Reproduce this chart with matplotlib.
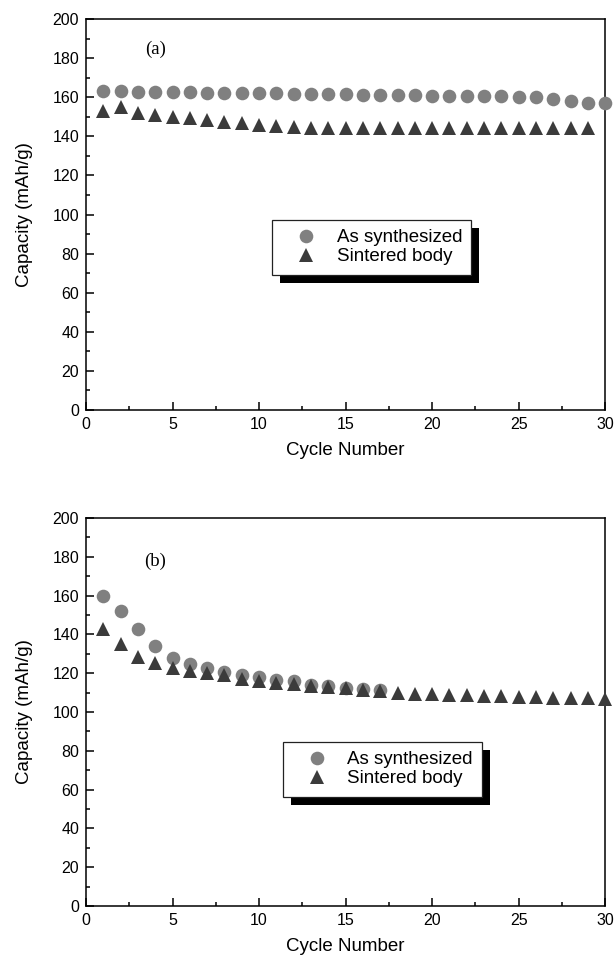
import numpy as np
import matplotlib
matplotlib.use("Agg")
import matplotlib.pyplot as plt
from matplotlib.patches import Rectangle

plt.rcParams['font.family'] = ['Liberation Sans', 'DejaVu Sans']

# panel (a)
cyc_a_syn = list(range(1, 31))
cap_a_syn = [163.2, 163.0, 162.8, 162.7, 162.6, 162.5, 162.3, 162.2, 162.1, 162.0,
             161.9, 161.8, 161.6, 161.5, 161.4, 161.3, 161.2, 161.0, 160.9, 160.8,
             160.7, 160.6, 160.5, 160.4, 160.2, 160.0, 159.0, 158.0, 157.0, 156.8]
cyc_a_sin = list(range(1, 30))
cap_a_sin = [153.0, 155.0, 152.0, 150.8, 150.0, 149.2, 148.3, 147.5, 146.6, 145.9,
             145.1, 145.0, 144.2, 144.1, 144.0, 144.0, 144.0, 144.0, 144.0, 144.0,
             144.0, 144.0, 144.0, 144.0, 144.0, 144.0, 144.0, 144.0, 144.0]

# panel (b)
cyc_b_syn = list(range(1, 18))
cap_b_syn = [160.0, 152.0, 143.0, 134.2, 128.0, 124.7, 122.5, 120.5, 118.8, 118.0,
             116.7, 115.8, 114.0, 113.2, 112.6, 112.0, 111.2]
cyc_b_sin = list(range(1, 31))
cap_b_sin = [142.8, 135.0, 128.3, 125.0, 122.7, 121.3, 120.2, 118.8, 117.2, 116.0,
             115.0, 114.3, 113.5, 112.8, 112.2, 111.5, 110.8, 110.0, 109.5, 109.0,
             108.8, 108.5, 108.3, 108.0, 107.8, 107.6, 107.4, 107.2, 107.0, 106.8]

labels = ['As synthesized', 'Sintered body']
panel_tags = ['(a)', '(b)']

fig = plt.figure(figsize=(6.16, 9.68), dpi=100)
ax_a = fig.add_axes([0.1396, 0.5764, 0.843, 0.404])
ax_b = fig.add_axes([0.1396, 0.064, 0.843, 0.401])

panels = [
    (ax_a, cyc_a_syn, cap_a_syn, cyc_a_sin, cap_a_sin, panel_tags[0], (4.0, 184.6), (0.358, 0.486)),
    (ax_b, cyc_b_syn, cap_b_syn, cyc_b_sin, cap_b_sin, panel_tags[1], (4.0, 177.5), (0.379, 0.423)),
]

legends = []
for ax, xs, ys, xt, yt, tag, tagpos, legpos in panels:
    ax.plot(xs, ys, 'o', color='#808080', markersize=9.8, markeredgewidth=0,
            label=labels[0], clip_on=False, zorder=3)
    ax.plot(xt, yt, '^', color='#3b3b3b', markersize=10.2, markeredgewidth=0,
            label=labels[1], clip_on=False, zorder=3)
    ax.set_xlim(0, 30)
    ax.set_ylim(0, 200)
    ax.set_xticks(np.arange(0, 31, 5))
    ax.set_xticks(np.arange(0, 31, 2.5), minor=True)
    ax.set_yticks(np.arange(0, 201, 20))
    ax.set_yticks(np.arange(0, 201, 10), minor=True)
    ax.tick_params(which='both', direction='in', top=False, right=False,
                   labelsize=11.5, width=1.1)
    ax.tick_params(which='major', length=5.8, pad=5)
    ax.tick_params(which='minor', length=2.9)
    for sp in ax.spines.values():
        sp.set_linewidth(1.1)
    ax.set_xlabel('Cycle Number', fontsize=13.5, labelpad=7)
    ax.set_ylabel('Capacity (mAh/g)', fontsize=13.5, labelpad=14)
    ax.text(tagpos[0], tagpos[1], tag, fontsize=13.5, family='Liberation Serif',
            ha='center', va='center')
    leg = ax.legend(loc='upper left', bbox_to_anchor=legpos, fontsize=13.5,
                    frameon=True, fancybox=False, edgecolor='#222222',
                    framealpha=1, handlelength=2.6, handletextpad=0.35,
                    borderpad=0.5, labelspacing=0.1, borderaxespad=0)
    leg.get_frame().set_linewidth(0.9)
    legends.append((ax, leg))

fig.canvas.draw()
for ax, leg in legends:
    bb = leg.get_window_extent()
    off = 8
    shadow = Rectangle((bb.x0 + off, bb.y0 - off), bb.width, bb.height,
                       transform=None, facecolor='black', edgecolor='none',
                       zorder=4.5, clip_on=False)
    ax.add_artist(shadow)

fig.savefig('out.png', dpi=100)
